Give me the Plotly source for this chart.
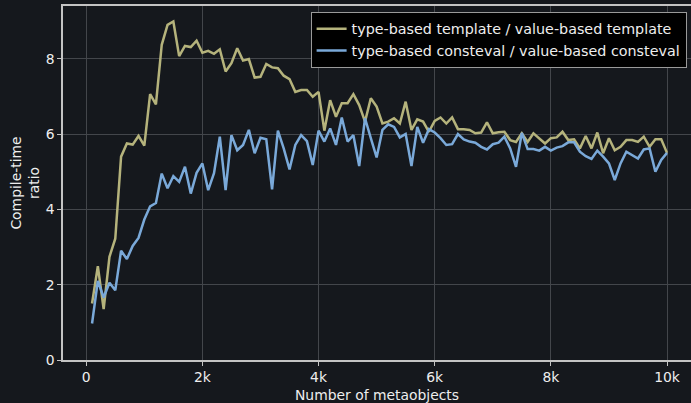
import plotly.graph_objects as go

# Number of metaobjects per benchmark run
metaobjects = list(range(100, 10001, 100))

# type-based template / value-based template
template_ratio = [
    1.50, 2.49, 1.35, 2.74, 3.22, 5.40, 5.75, 5.72, 5.95, 5.69,
    7.06, 6.79, 8.37, 8.90, 8.99, 8.07, 8.34, 8.31, 8.48, 8.16,
    8.21, 8.13, 8.25, 7.66, 7.88, 8.28, 7.95, 7.99, 7.50, 7.52,
    7.86, 7.77, 7.75, 7.55, 7.46, 7.12, 7.17, 7.17, 6.99, 7.12,
    6.09, 6.90, 6.46, 6.82, 6.82, 7.06, 6.77, 6.33, 6.95, 6.73,
    6.28, 6.33, 6.42, 6.28, 6.86, 6.11, 6.39, 6.33, 6.06, 6.35,
    6.44, 6.28, 6.44, 6.13, 6.13, 6.11, 6.02, 6.04, 6.31, 6.02,
    6.05, 6.06, 5.84, 5.79, 6.02, 5.79, 6.02, 5.89, 5.75, 5.89,
    5.91, 6.06, 5.84, 5.86, 5.62, 5.95, 5.62, 6.04, 5.49, 5.89,
    5.57, 5.66, 5.84, 5.84, 5.79, 5.93, 5.66, 5.86, 5.86, 5.50,
]

# type-based consteval / value-based consteval
consteval_ratio = [
    0.97, 2.10, 1.66, 2.05, 1.85, 2.90, 2.68, 3.03, 3.24, 3.73,
    4.08, 4.17, 4.95, 4.56, 4.88, 4.73, 5.13, 4.42, 4.97, 5.22,
    4.51, 4.96, 5.93, 4.51, 5.97, 5.57, 5.71, 6.11, 5.49, 5.90,
    5.86, 4.53, 6.09, 5.62, 5.06, 5.71, 5.97, 5.81, 5.18, 6.09,
    5.80, 6.15, 5.71, 6.44, 5.80, 5.97, 5.15, 6.42, 5.89, 5.38,
    6.11, 6.26, 6.19, 5.91, 6.00, 5.15, 6.19, 5.77, 6.13, 6.04,
    5.89, 5.71, 5.73, 6.00, 5.86, 5.80, 5.77, 5.66, 5.59, 5.73,
    5.77, 5.93, 5.62, 5.13, 6.03, 5.60, 5.60, 5.56, 5.66, 5.56,
    5.64, 5.68, 5.78, 5.78, 5.53, 5.41, 5.34, 5.56, 5.40, 5.22,
    4.78, 5.22, 5.53, 5.44, 5.35, 5.59, 5.62, 5.00, 5.31, 5.50,
]

x_tick_vals = [0, 2000, 4000, 6000, 8000, 10000]
x_tick_text = ["0", "2k", "4k", "6k", "8k", "10k"]
y_tick_vals = [0, 2, 4, 6, 8]

BG = "#15181d"
GRID = "#43464b"
SPINE = "#c4c4c4"
TEXT = "#eeeeee"
FONT = "DejaVu Sans, sans-serif"
FS = 13.9

fig = go.Figure()
fig.add_trace(go.Scatter(
    x=metaobjects, y=template_ratio, mode="lines",
    name="type-based template / value-based template",
    line=dict(color="#b5b37c", width=2.5),
))
fig.add_trace(go.Scatter(
    x=metaobjects, y=consteval_ratio, mode="lines",
    name="type-based consteval / value-based consteval",
    line=dict(color="#7aa9d9", width=2.5),
))

fig.update_layout(
    width=691, height=403,
    margin=dict(l=63, r=0, t=6, b=43.4),
    paper_bgcolor=BG, plot_bgcolor=BG,
    font=dict(family=FONT, size=FS, color=TEXT),
    showlegend=True,
    legend=dict(
        x=0.993, y=0.983, xanchor="right", yanchor="top",
        bgcolor="#000000", bordercolor="#9a9a9a", borderwidth=1,
        font=dict(family=FONT, size=14.3, color=TEXT),
        tracegroupgap=0,
    ),
    xaxis=dict(
        range=[-400, 10413],
        tickvals=x_tick_vals, ticktext=x_tick_text,
        showgrid=True, gridcolor=GRID, gridwidth=1,
        showline=True, linecolor=SPINE, linewidth=1.5, mirror=True,
        ticks="outside", ticklen=4, tickcolor=SPINE, tickwidth=1.2,
        zeroline=False,
        title=dict(text="Number of metaobjects", standoff=6,
                   font=dict(family=FONT, size=FS, color=TEXT)),
    ),
    yaxis=dict(
        range=[0, 9.4],
        tickvals=y_tick_vals,
        showgrid=True, gridcolor=GRID, gridwidth=1,
        showline=True, linecolor=SPINE, linewidth=1.5,
        ticks="outside", ticklen=4, tickcolor=SPINE, tickwidth=1.2,
        zeroline=False,
        title=dict(text="Compile-time<br>ratio", standoff=3,
                   font=dict(family=FONT, size=FS, color=TEXT)),
    ),
)

fig.write_html("out.html")
